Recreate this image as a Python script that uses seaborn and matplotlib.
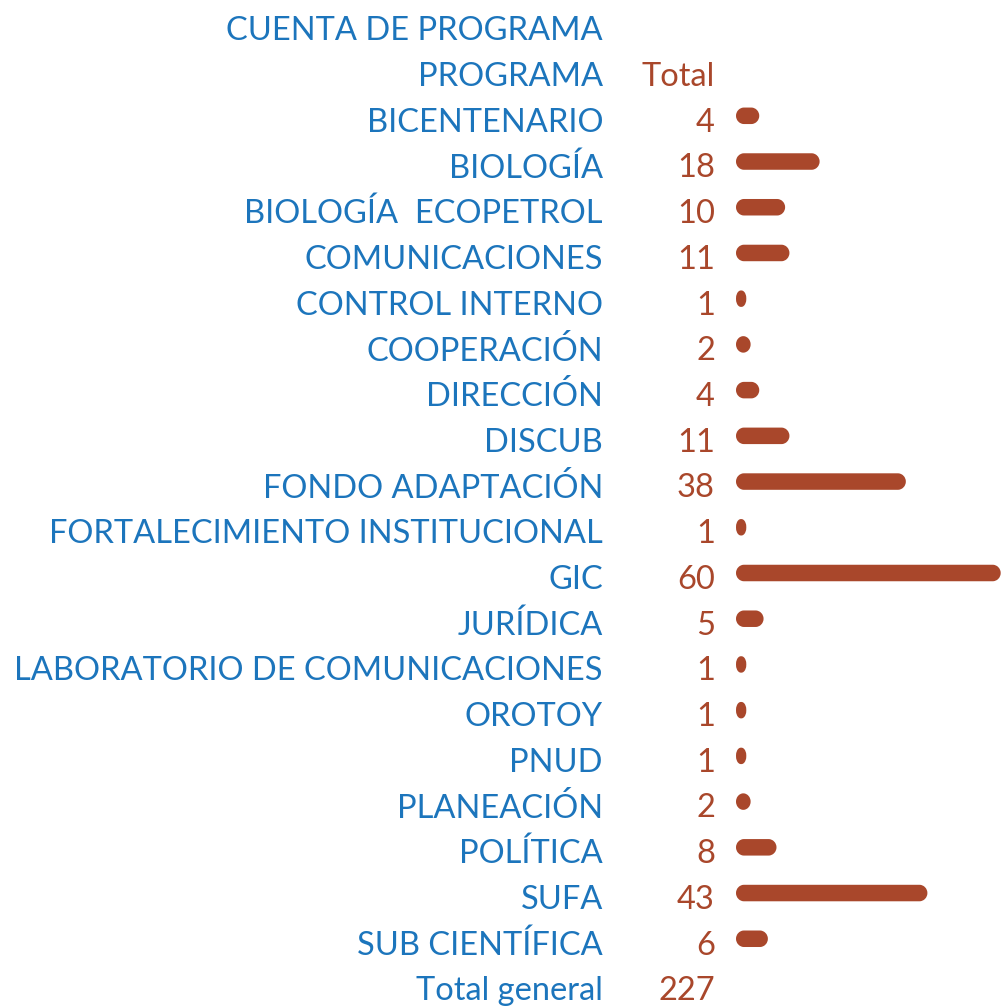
import matplotlib
matplotlib.use("Agg")
import matplotlib.pyplot as plt
import matplotlib.transforms as mtransforms
from matplotlib.path import Path
from matplotlib.patches import PathPatch
import seaborn as sns
import pandas as pd

# DATA
programas = ["BICENTENARIO", "BIOLOGÍA", "BIOLOGÍA  ECOPETROL", "COMUNICACIONES",
             "CONTROL INTERNO", "COOPERACIÓN", "DIRECCIÓN", "DISCUB",
             "FONDO ADAPTACIÓN", "FORTALECIMIENTO INSTITUCIONAL", "GIC", "JURÍDICA",
             "LABORATORIO DE COMUNICACIONES", "OROTOY", "PNUD", "PLANEACIÓN",
             "POLÍTICA", "SUFA", "SUB CIENTÍFICA"]
totales = [4, 18, 10, 11, 1, 2, 4, 11, 38, 1, 60, 5, 1, 1, 1, 2, 8, 43, 6]
header_1 = "CUENTA DE PROGRAMA"
header_2 = "PROGRAMA"
header_total = "Total"
total_label = "Total general"
total_general = 227

BLUE = "#1c75bc"
RUST = "#a9472b"
W, H = 1002, 1006
ROW_PX = 45.72
FIRST_PX = 119
EDGE_PX = 6

sns.set_theme(style="white")
plt.rcParams['font.family'] = ['Lato', 'DejaVu Sans']

df = pd.DataFrame({"programa": programas, "total": totales})

fig = plt.figure(figsize=(W / 100, H / 100), dpi=100)
ax_left = 736 + EDGE_PX / 2
ax = fig.add_axes([ax_left / W, 0, (W - ax_left) / W, 1])
bar_h = (16.5 - EDGE_PX) / ROW_PX
sns.barplot(data=df, x="total", y="programa", orient="h", color=RUST,
            width=bar_h, ax=ax, saturation=1)
ax.set_xlim(0, 61)
ax.set_ylim((H - FIRST_PX) / ROW_PX, -FIRST_PX / ROW_PX)
ax.axis("off")


def rounded_bar(ax, x, y, w, h, r_px):
    px_per_x = ax.transData.transform((1, 0))[0] - ax.transData.transform((0, 0))[0]
    rx = min(r_px / px_per_x, w / 2)
    ry = h / 2
    k = 0.5523
    x1, y1 = x + w, y + h
    verts = [(x + rx, y), (x1 - rx, y),
             (x1 - rx + k * rx, y), (x1, y + ry - k * ry), (x1, y + ry),
             (x1, y1 - ry),
             (x1, y1 - ry + k * ry), (x1 - rx + k * rx, y1), (x1 - rx, y1),
             (x + rx, y1),
             (x + rx - k * rx, y1), (x, y1 - ry + k * ry), (x, y1 - ry),
             (x, y + ry),
             (x, y + ry - k * ry), (x + rx - k * rx, y), (x + rx, y),
             (x + rx, y)]
    codes = [Path.MOVETO, Path.LINETO,
             Path.CURVE4, Path.CURVE4, Path.CURVE4,
             Path.LINETO,
             Path.CURVE4, Path.CURVE4, Path.CURVE4,
             Path.LINETO,
             Path.CURVE4, Path.CURVE4, Path.CURVE4,
             Path.LINETO,
             Path.CURVE4, Path.CURVE4, Path.CURVE4,
             Path.CLOSEPOLY]
    ax.add_patch(PathPatch(Path(verts, codes), facecolor=RUST, edgecolor=RUST,
                           linewidth=EDGE_PX * 0.72, joinstyle="round",
                           clip_on=False))


# swap the square seaborn bars for rounded ones
for p in list(ax.patches):
    x, y, w, h = p.get_x(), p.get_y(), p.get_width(), p.get_height()
    p.remove()
    rounded_bar(ax, x, y - 0.07, w, h, 5)

trans = mtransforms.blended_transform_factory(fig.transFigure, ax.transData)
fs = 23.5
lab_x = 603 / W
val_x = 715 / W
dy = 0.08

ax.text(lab_x, -2 + dy, header_1, transform=trans, ha="right", va="center",
        color=BLUE, fontsize=fs)
ax.text(lab_x, -1 + dy, header_2, transform=trans, ha="right", va="center",
        color=BLUE, fontsize=fs)
ax.text(val_x, -1 + dy, header_total, transform=trans, ha="right", va="center",
        color=RUST, fontsize=fs)

for i, (name, val) in enumerate(zip(programas, totales)):
    ax.text(lab_x, i + dy, name, transform=trans, ha="right", va="center",
            color=BLUE, fontsize=fs)
    ax.text(val_x, i + dy, str(val), transform=trans, ha="right", va="center",
            color=RUST, fontsize=fs)

n = len(programas)
ax.text(lab_x, n + dy, total_label, transform=trans, ha="right", va="center",
        color=BLUE, fontsize=fs)
ax.text(val_x, n + dy, str(total_general), transform=trans, ha="right", va="center",
        color=RUST, fontsize=fs)

fig.savefig("out.png", dpi=100, facecolor="white")
